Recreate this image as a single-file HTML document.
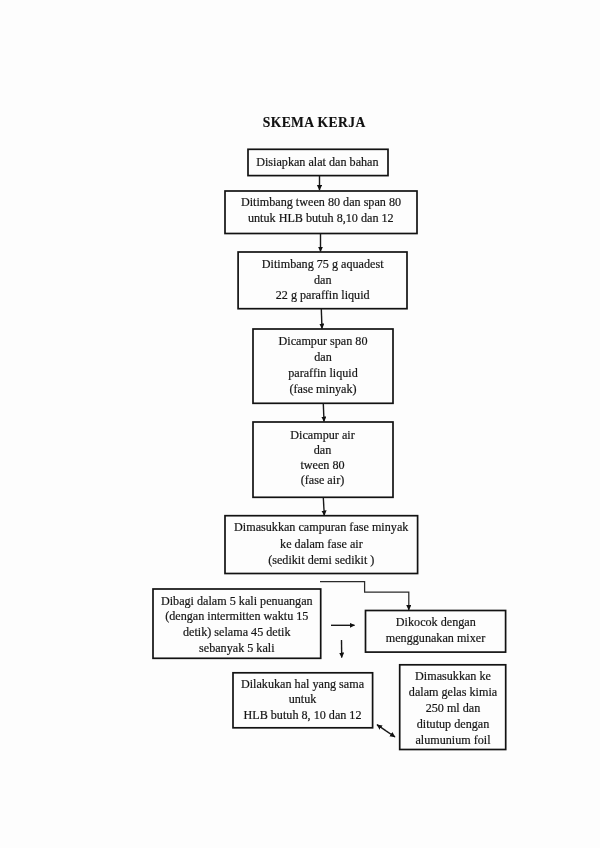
<!DOCTYPE html>
<html><head><meta charset="utf-8">
<style>
html,body{margin:0;padding:0;background:#fdfdfd;}
body{width:600px;height:848px;overflow:hidden;position:relative;}
svg{position:absolute;left:0;top:0;filter:blur(0.35px);}
text{font-family:"Liberation Serif",serif;font-size:12.15px;fill:#151515;stroke:#151515;stroke-width:0.2;}
.t{font-size:13.6px;font-weight:bold;fill:#111;stroke:#111;stroke-width:0.15;letter-spacing:0.4px;}
</style></head><body>
<svg width="600" height="848" viewBox="0 0 600 848">
<defs>
<marker id="ah" markerWidth="6" markerHeight="6" refX="5" refY="2.6" orient="auto" markerUnits="userSpaceOnUse">
<path d="M0,0 L5.5,2.6 L0,5.2 z" fill="#111"/>
</marker>
</defs>
<g fill="none" stroke="#121212" stroke-width="1.7">
<rect x="248" y="149.3" width="140" height="26.3"/>
<rect x="225" y="191" width="192" height="42.5"/>
<rect x="238.1" y="252" width="168.9" height="56.7"/>
<rect x="253" y="329" width="140" height="74.3"/>
<rect x="253" y="422" width="140" height="75.3"/>
<rect x="225" y="515.7" width="192.6" height="57.8"/>
<rect x="153" y="589" width="167.7" height="69.3"/>
<rect x="365.5" y="610.5" width="140.1" height="41.6"/>
<rect x="233" y="672.8" width="139.6" height="55"/>
<rect x="399.7" y="664.8" width="106" height="84.7"/>
</g>
<g fill="none" stroke="#181818" stroke-width="1.4">
<line x1="319.5" y1="175" x2="319.5" y2="190" marker-end="url(#ah)"/>
<line x1="320.5" y1="233.5" x2="320.5" y2="251.5" marker-end="url(#ah)"/>
<line x1="321.3" y1="308.7" x2="322" y2="328.5" marker-end="url(#ah)"/>
<line x1="323.3" y1="403.5" x2="324" y2="421.5" marker-end="url(#ah)"/>
<line x1="323.3" y1="497.5" x2="324.3" y2="515.5" marker-end="url(#ah)"/>
<polyline points="320,581.5 364.6,581.5 364.6,592 408.8,592 408.8,610" stroke="#2a2a2a" stroke-width="1.25" marker-end="url(#ah)"/>
<line x1="331" y1="625.3" x2="354.5" y2="625.3" marker-end="url(#ah)"/>
<line x1="341.5" y1="640" x2="341.7" y2="657.5" marker-end="url(#ah)"/>
<line x1="386" y1="730.9" x2="395" y2="737" marker-end="url(#ah)"/>
<line x1="386" y1="730.9" x2="377" y2="724.7" marker-end="url(#ah)"/>
</g>
<text class="t" x="314.2" y="127.3" text-anchor="middle">SKEMA KERJA</text>
<g text-anchor="middle">
<text x="317.4" y="165.9">Disiapkan alat dan bahan</text>
<text x="321" y="205.6">Ditimbang tween 80 dan span 80</text>
<text x="320.8" y="221.6">untuk HLB butuh 8,10 dan 12</text>
<text x="322.7" y="267.9">Ditimbang 75 g aquadest</text>
<text x="322.7" y="283.5">dan</text>
<text x="322.7" y="299.2">22 g paraffin liquid</text>
<text x="323" y="344.7">Dicampur span 80</text>
<text x="323" y="360.8">dan</text>
<text x="323" y="376.7">paraffin liquid</text>
<text x="323" y="392.5">(fase minyak)</text>
<text x="322.5" y="438.5">Dicampur air</text>
<text x="322.5" y="453.5">dan</text>
<text x="322.5" y="469.3">tween 80</text>
<text x="322.5" y="484.3">(fase air)</text>
<text x="321.2" y="531.1">Dimasukkan campuran fase minyak</text>
<text x="321.4" y="547.5">ke dalam fase air</text>
<text x="321.3" y="563.5">(sedikit demi sedikit )</text>
<text x="236.8" y="604.8">Dibagi dalam 5 kali penuangan</text>
<text x="236.8" y="620.3">(dengan intermitten waktu 15</text>
<text x="236.8" y="636">detik) selama 45 detik</text>
<text x="236.8" y="651.8">sebanyak 5 kali</text>
<text x="435.8" y="625.5">Dikocok dengan</text>
<text x="435.5" y="641.5">menggunakan mixer</text>
<text x="302.5" y="687.7">Dilakukan hal yang sama</text>
<text x="302.5" y="702.5">untuk</text>
<text x="302.5" y="718.6">HLB butuh 8, 10 dan 12</text>
<text x="453" y="679.5">Dimasukkan ke</text>
<text x="453" y="696.1">dalam gelas kimia</text>
<text x="453" y="711.7">250 ml dan</text>
<text x="453" y="727.9">ditutup dengan</text>
<text x="453" y="743.7">alumunium foil</text>
</g>
</svg>
</body></html>
